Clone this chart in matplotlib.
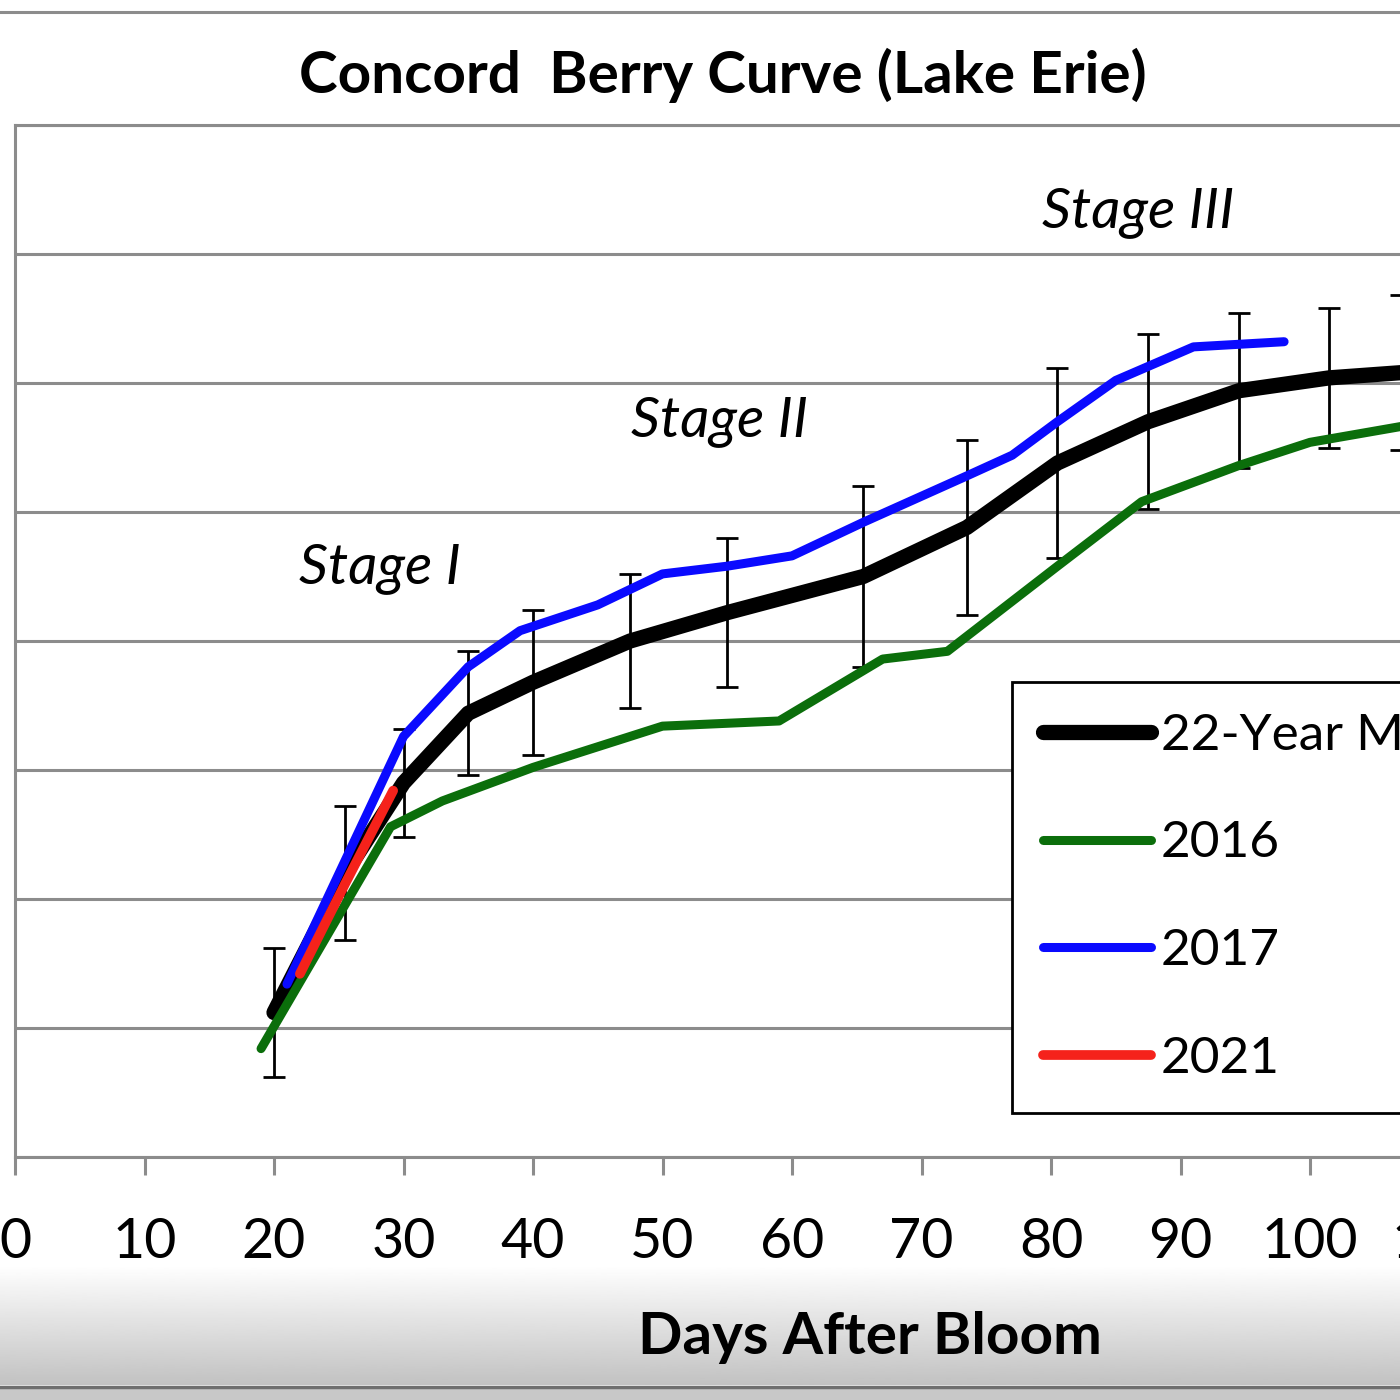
import matplotlib.pyplot as plt
from matplotlib.lines import Line2D
from matplotlib.patches import Rectangle
import numpy as np

plt.rcParams['font.family'] = ['Lato', 'DejaVu Sans']

# values (berry weight, days after bloom)
mean_days = [20, 25.5, 30, 35, 40, 47.5, 55, 65.5, 73.5, 80.5, 87.5, 94.5, 101.5, 107]
mean_wt = [0.56, 1.10, 1.45, 1.72, 1.84, 2.00, 2.11, 2.25, 2.44, 2.69, 2.85, 2.97, 3.02, 3.04]
mean_err = [0.25, 0.26, 0.21, 0.24, 0.28, 0.26, 0.29, 0.35, 0.34, 0.37, 0.34, 0.30, 0.27, 0.30]

days_2016 = [19, 29, 33, 40, 50, 59, 67, 72, 80.5, 87, 94.5, 100, 108]
wt_2016 = [0.42, 1.28, 1.38, 1.51, 1.67, 1.69, 1.93, 1.96, 2.29, 2.54, 2.68, 2.77, 2.84]

days_2017 = [21, 30, 35, 39, 45, 50, 55, 60, 65.5, 73.5, 77, 80.5, 85, 91, 98]
wt_2017 = [0.67, 1.63, 1.90, 2.04, 2.14, 2.26, 2.29, 2.33, 2.46, 2.64, 2.72, 2.85, 3.01, 3.14, 3.16]

days_2021 = [22, 25.5, 29.2]
wt_2021 = [0.71, 1.06, 1.42]

stage_labels = ['Stage I', 'Stage II', 'Stage III']
stage_pos = [(28.2, 2.28), (54.4, 2.85), (86.7, 3.66)]

W = 1400.0
fig = plt.figure(figsize=(14, 14), dpi=100)

# grey gradient band at the bottom of the chart
gax = fig.add_axes([0, 15 / W, 1, (1385 - 1265) / W], zorder=-1)
grad = np.linspace(1.0, 0.76, 200).reshape(-1, 1)
gax.imshow(grad, aspect='auto', cmap='gray', vmin=0, vmax=1, extent=[0, 1, 0, 1])
gax.axis('off')
fig.add_artist(Rectangle((0, 0), 1, 12 / W, transform=fig.transFigure, color='#c8c8c8', zorder=-2))
fig.add_artist(Line2D([0, 1], [1 - 1387 / W] * 2, color='#6e6e6e', lw=2.5))
fig.add_artist(Line2D([0, 1], [1 - 12 / W] * 2, color='#8c8c8c', lw=2.2))

px_per_day = 12.95
xmax = 120
ax = fig.add_axes([15 / W, 1 - 1157 / W, xmax * px_per_day / W, (1157 - 125) / W])

grid_c = '#8c8c8c'
ax.set_xlim(0, xmax)
ax.set_ylim(0, 4)
ax.set_yticks(np.arange(0, 4.01, 0.5))
ax.set_xticks(np.arange(0, xmax + 1, 10))
ax.yaxis.grid(True, color=grid_c, lw=2.2)
ax.set_axisbelow(True)
for s in ax.spines.values():
    s.set_color(grid_c)
    s.set_linewidth(2.2)
ax.tick_params(axis='x', direction='out', length=13, width=2.2, color=grid_c,
               labelsize=40, pad=30)
ax.tick_params(axis='y', length=0, labelleft=False)

ax.errorbar(mean_days, mean_wt, yerr=mean_err, fmt='none', ecolor='black',
            elinewidth=2, capsize=8, capthick=2, zorder=2)
ax.plot(mean_days, mean_wt, color='black', lw=11, solid_capstyle='round',
        solid_joinstyle='round', label='22-Year Mean', zorder=3)
ax.plot(days_2016, wt_2016, color='#0b6e0b', lw=6.5, solid_capstyle='round',
        solid_joinstyle='round', label='2016', zorder=4)
ax.plot(days_2017, wt_2017, color='#0a0aff', lw=6.5, solid_capstyle='round',
        solid_joinstyle='round', label='2017', zorder=5)
ax.plot(days_2021, wt_2021, color='#f5221b', lw=7, solid_capstyle='round',
        solid_joinstyle='round', label='2021', zorder=6)

for lab, (x, y) in zip(stage_labels, stage_pos):
    ax.text(x, y, lab, fontsize=41, style='italic', ha='center', va='center')

leg = ax.legend(loc='upper left', bbox_to_anchor=((1012 - 15) / (xmax * px_per_day), (1157 - 682) / 1032),
                borderaxespad=0, fontsize=37, handlelength=2.1, handletextpad=0.2,
                labelspacing=1.2, borderpad=0.6, fancybox=False, framealpha=1)
leg.get_frame().set_edgecolor('black')
leg.get_frame().set_linewidth(2)
for h in leg.get_lines():
    h.set_solid_capstyle('round')

fig.text(723 / W, 1 - 75 / W, 'Concord  Berry Curve (Lake Erie)', fontsize=42,
         fontweight='bold', ha='center', va='center')
fig.text(870 / W, 1 - 1337 / W, 'Days After Bloom', fontsize=42,
         fontweight='bold', ha='center', va='center')

fig.savefig('out.png', dpi=100)
